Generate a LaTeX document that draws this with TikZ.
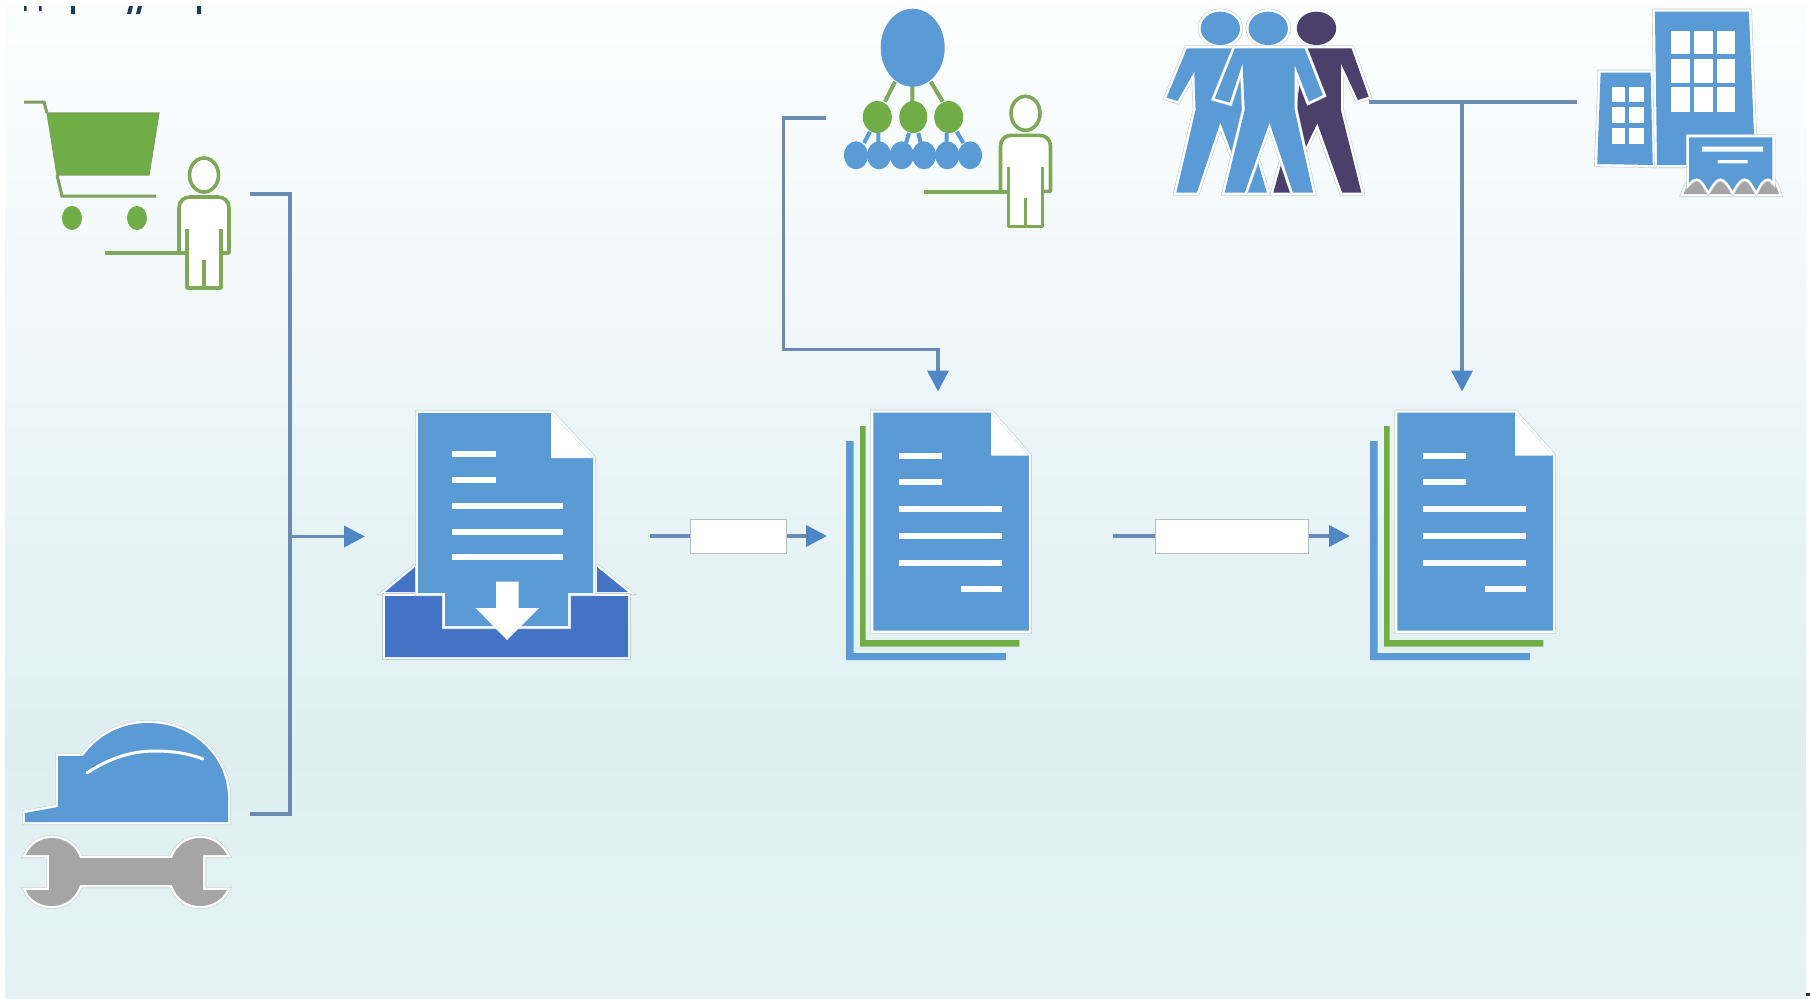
\documentclass[tikz,border=0pt]{standalone}
\usetikzlibrary{arrows.meta}
\definecolor{pbot}{HTML}{E5F3F5}
\definecolor{plow}{HTML}{DFEFF1}
\definecolor{pmid}{HTML}{E8F4F6}
\definecolor{pup}{HTML}{F1F8FA}
\definecolor{ptop}{HTML}{FCFEFE}
\definecolor{iblue}{HTML}{5B9BD5}
\definecolor{tray}{HTML}{4472C4}
\definecolor{igreen}{HTML}{70AD47}
\definecolor{pgreen}{HTML}{7FA85A}
\definecolor{igray}{HTML}{A5A5A5}
\definecolor{idark}{HTML}{4A4069}
\definecolor{linec}{HTML}{6A8BB4}
\definecolor{tipc}{HTML}{4F86C6}
\definecolor{halogray}{HTML}{C3CED3}
\definecolor{txtdark}{HTML}{1F3A5F}
\pgfdeclareverticalshading{panelgrad}{100bp}{color(0bp)=(pbot); color(25bp)=(pbot); color(37.5bp)=(plow); color(50bp)=(pmid); color(60bp)=(pup); color(75bp)=(ptop); color(100bp)=(ptop)}
\tikzset{
  conn/.style={draw=linec,line width=1.8pt,line join=miter},
  arr/.style={-{Triangle[length=10.5pt,width=10.5pt,color=tipc]}},
  halo/.style={line join=round,preaction={draw=halogray,line width=3pt},preaction={draw=white,line width=2.4pt}},
  labelbox/.style={draw=halogray!80!gray,fill=white,line width=0.5pt,inner sep=0pt,minimum height=17pt},
  personline/.style={draw=pgreen,line width=1.8pt,line join=round},
  whitebar/.style={fill=white},
  pics/personicon/.style={code={
    \fill[white,draw=pgreen,line width=1.8pt] (204,175) ellipse (14.5 and 17);
    \fill[white] (179,253) -- (179,208) .. controls (179,201) and (184,197) .. (190,197) -- (218,197) .. controls (224,197) and (229,201) .. (229,208) -- (229,253) -- (221,253) -- (221,288) -- (187,288) -- (187,253) -- cycle;
    \draw[personline] (179,253) -- (179,208) .. controls (179,201) and (184,197) .. (190,197) -- (218,197) .. controls (224,197) and (229,201) .. (229,208) -- (229,253) -- (221,253);
    \draw[personline] (187,229) -- (187,288) -- (221,288) -- (221,229);
    \draw[personline] (204,260) -- (204,288);
  }},
  pics/docstack/.style={code={
    \fill[iblue] (846.2,441) -- (853.7,441) -- (853.7,653) -- (1005.8,653) -- (1005.8,660) -- (846.2,660) -- cycle;
    \fill[igreen] (860,426) -- (865.5,426) -- (865.5,640) -- (1019.3,640) -- (1019.3,646.7) -- (860,646.7) -- cycle;
    \fill[iblue,halo] (873.3,412.7) -- (991,412.7) -- (1028.8,455.7) -- (1028.8,630.7) -- (873.3,630.7) -- cycle;
    \fill[white] (991,412.7) -- (1028.8,455.7) -- (991,455.7) -- cycle;
    \foreach \yy in {455.7,482.3} \fill[whitebar] (898.6,\yy-3) rectangle (941.6,\yy+3);
    \foreach \yy in {509,535.7,562.7} \fill[whitebar] (898.6,\yy-3) rectangle (1001.7,\yy+3);
    \fill[whitebar] (960.5,586.3) rectangle (1001.7,592.3);
  }}
}
\begin{document}
\begin{tikzpicture}[x=0.5pt,y=-0.5pt]
\useasboundingbox (0,0) rectangle (1810,998);
\fill[white] (0,0) rectangle (1810,998);
\shade[shading=panelgrad] (5,5) rectangle (1806,998);
% cropped remnants along the top edge
\fill[txtdark] (24,6) rectangle (26.5,11) (39,6) rectangle (41.5,11) (71,6) rectangle (75,14) (197,6) rectangle (201,14);
\fill[txtdark] (129,6) -- (133,6) -- (131,14) -- (127,14) -- cycle (138,6) -- (142,6) -- (140,14) -- (136,14) -- cycle;
\fill[txtdark] (1806,993) rectangle (1810,996);

% shopping cart
\fill[igreen,draw=pgreen!80!gray,line width=0.6pt] (47,113) -- (159,113) -- (149,175) -- (57,175) -- cycle;
\draw[draw=pgreen!80!gray,line width=1.5pt] (24,102) -- (44,102) -- (47,113);
\draw[draw=pgreen!80!gray,line width=1.5pt] (57,175) -- (62,196) -- (156,196);
\fill[igreen] (72,218) ellipse (10 and 12) (137,218) ellipse (10 and 12);
\pic at (0,0) {personicon};
\draw[personline] (105,253) -- (187,253);

% helmet and wrench
\fill[iblue,halo] (25,822) -- (228,822) -- (228,795) .. controls (226,755) and (192,723) .. (148,723) .. controls (122,723) and (98,735) .. (83,756) -- (58,756) -- (58,807) -- (25,813) -- cycle;
\draw[white,line width=1.5pt,line cap=round] (87,773) .. controls (108,759) and (130,751) .. (155,751) .. controls (175,751) and (190,754) .. (203,759);
\fill[igray,halo] (26,855) .. controls (30,845) and (40,838) .. (52,838) .. controls (65,838) and (76,846) .. (80,858) -- (172,858) .. controls (176,846) and (187,838) .. (200,838) .. controls (212,838) and (222,845) .. (227,855) -- (203,855) -- (203,890) -- (227,890) .. controls (222,900) and (212,906) .. (200,906) .. controls (187,906) and (176,898) .. (172,885) -- (80,885) .. controls (76,898) and (65,906) .. (52,906) .. controls (40,906) and (30,900) .. (26,890) -- (49,890) -- (49,855) -- cycle;

% inbox
\fill[tray,halo] (385,592) -- (415,567) -- (415,592) -- cycle;
\fill[tray,halo] (597,567) -- (628,592) -- (597,592) -- cycle;
\fill[tray,halo] (385,596) -- (445,596) -- (445,629) -- (568,629) -- (568,596) -- (628,596) -- (628,657) -- (385,657) -- cycle;
\fill[iblue,halo] (418,413) -- (551,413) -- (593,458) -- (593,593) -- (568,593) -- (568,626) -- (445,626) -- (445,593) -- (418,593) -- cycle;
\fill[white] (551,413) -- (593,458) -- (551,458) -- cycle;
\foreach \yy in {454,479.7} \fill[whitebar] (452,\yy-3) rectangle (496,\yy+3);
\foreach \yy in {505.7,531.7,557} \fill[whitebar] (452,\yy-3) rectangle (563,\yy+3);
\fill[white] (496,581.7) -- (518.7,581.7) -- (518.7,608) -- (539,608) -- (507,640) -- (475.7,608) -- (496,608) -- cycle;

% document stacks
\pic at (0,0) {docstack};
\pic at (524,0) {docstack};

% organisation chart
\draw[pgreen,line width=2pt] (895,81.7) -- (885,101.7) (912.3,86) -- (912.3,101.7) (930.7,81.7) -- (942.7,101.7);
\draw[iblue,line width=2pt] (870,131.7) -- (864,143) (878.3,133) -- (878.3,143) (909,133) -- (906,143) (918.3,133) -- (920.7,143) (946.7,133) -- (946.7,143) (956.7,131.7) -- (963.3,143);
\fill[iblue] (912.7,47.7) ellipse (32 and 39);
\fill[igreen] (877.3,117) ellipse (14.5 and 16) (913.3,117) ellipse (14 and 16) (948.7,117) ellipse (14.5 and 16);
\foreach \xx in {856,879,901.7,924,947.3,970} \fill[iblue] (\xx,155.3) ellipse (12 and 14);
\pic at (821.5,-61.7) {personicon};
\draw[personline] (924,191.7) -- (1008.5,191.7);

% people and buildings, typed in the grid of a magnified view
\begin{scope}[xshift=570pt,x=0.21365pt,y=-0.166667pt]
  \fill[idark] (413,85) ellipse (46 and 50);
  \fill[idark,halo] (385,145) -- (495,145) -- (535,290) -- (510,300) -- (470,190) -- (470,330) -- (518,578) -- (473,578) -- (415,370) -- (385,450) -- (358,578) -- (312,578) -- (365,330) -- cycle;
  \fill[iblue,halo] (188,85) ellipse (46 and 50);
  \fill[iblue,halo] (110,145) -- (220,145) -- (240,190) -- (240,330) -- (297,578) -- (250,578) -- (188,368) -- (133,578) -- (85,578) -- (130,330) -- (127,215) -- (88,303) -- (62,293) -- cycle;
  \fill[iblue,halo] (300,85) ellipse (46 and 50);
  \fill[iblue,halo] (222,145) -- (385,145) -- (428,285) -- (395,305) -- (362,195) -- (362,330) -- (405,578) -- (358,578) -- (303,368) -- (245,578) -- (198,578) -- (245,330) -- (240,190) -- (210,308) -- (175,295) -- cycle;
  % buildings
  \fill[iblue,halo] (1078,218) -- (1195,218) -- (1200,495) -- (1070,492) -- cycle;
  \foreach \cx/\cy in {1105/1135,1145/1180} \foreach \ra/\rb in {260/305,320/370,385/432} \fill[whitebar] (\cx,\ra) rectangle (\cy,\rb);
  \fill[iblue,halo] (1205,35) -- (1425,35) -- (1437,410) -- (1280,410) -- (1280,495) -- (1210,495) -- cycle;
  \foreach \cx/\cy in {1243/1287,1297/1340,1350/1393} \foreach \ra/\rb in {92/163,177/250,262/335} \fill[whitebar] (\cx,\ra) rectangle (\cy,\rb);
  \fill[igray,halo] (1272,582) .. controls (1278,560) and (1288,535) .. (1302,535) .. controls (1314,535) and (1320,550) .. (1330,572) .. controls (1340,550) and (1348,535) .. (1358,535) .. controls (1368,535) and (1377,550) .. (1387,572) .. controls (1396,550) and (1404,535) .. (1415,535) .. controls (1426,535) and (1433,550) .. (1442,572) .. controls (1450,550) and (1458,535) .. (1470,535) .. controls (1482,535) and (1490,560) .. (1495,582) -- cycle;
  \fill[iblue,halo] (1285,412) -- (1480,412) -- (1480,543) .. controls (1477,538) and (1474,535) .. (1470,535) .. controls (1458,535) and (1450,550) .. (1442,572) .. controls (1433,550) and (1426,535) .. (1415,535) .. controls (1404,535) and (1396,550) .. (1387,572) .. controls (1377,550) and (1368,535) .. (1358,535) .. controls (1348,535) and (1340,550) .. (1330,572) .. controls (1320,550) and (1314,535) .. (1302,535) .. controls (1295,535) and (1289,541) .. (1285,548) -- cycle;
  \fill[whitebar] (1315,440) rectangle (1458,455) (1352,480) rectangle (1422,490);
\end{scope}

% connector ends
\coordinate (cartport) at (250,194);
\coordinate (hatport) at (250,814);
\coordinate (busTop) at (290,194);
\coordinate (busBot) at (290,814);
\coordinate (busMid) at (290,536.5);
\coordinate (inboxIn) at (365,536.5);
\coordinate (inboxOut) at (650,536);
\coordinate (stackOneIn) at (827,536);
\coordinate (stackOneOut) at (1112.6,536);
\coordinate (stackTwoIn) at (1350,536);
\coordinate (orgport) at (826,118);
\coordinate (orgcorner) at (783.5,118);
\coordinate (orgdrop) at (783.5,349.5);
\coordinate (stackTurn) at (938,349.5);
\coordinate (stackOneTop) at (938,391.5);
\coordinate (peopleport) at (1369,102);
\coordinate (bldport) at (1577,102);
\coordinate (teeport) at (1462,102);
\coordinate (stackTwoTop) at (1462,391.5);
\node[labelbox,minimum width=48pt] (lblA) at (738.8,536) {};
\node[labelbox,minimum width=76.4pt] (lblB) at (1232,536) {};

\draw[conn] (cartport) -- (busTop) -- (busBot) -- (hatport);
\draw[conn,arr] (busMid) -- (inboxIn);
\draw[conn] (inboxOut) -- (lblA);
\draw[conn,arr] (lblA) -- (stackOneIn);
\draw[conn] (stackOneOut) -- (lblB);
\draw[conn,arr] (lblB) -- (stackTwoIn);
\draw[conn,arr] (orgport) -- (orgcorner) -- (orgdrop) -- (stackTurn) -- (stackOneTop);
\draw[conn] (peopleport) -- (bldport);
\draw[conn,arr] (teeport) -- (stackTwoTop);
\end{tikzpicture}
\end{document}
